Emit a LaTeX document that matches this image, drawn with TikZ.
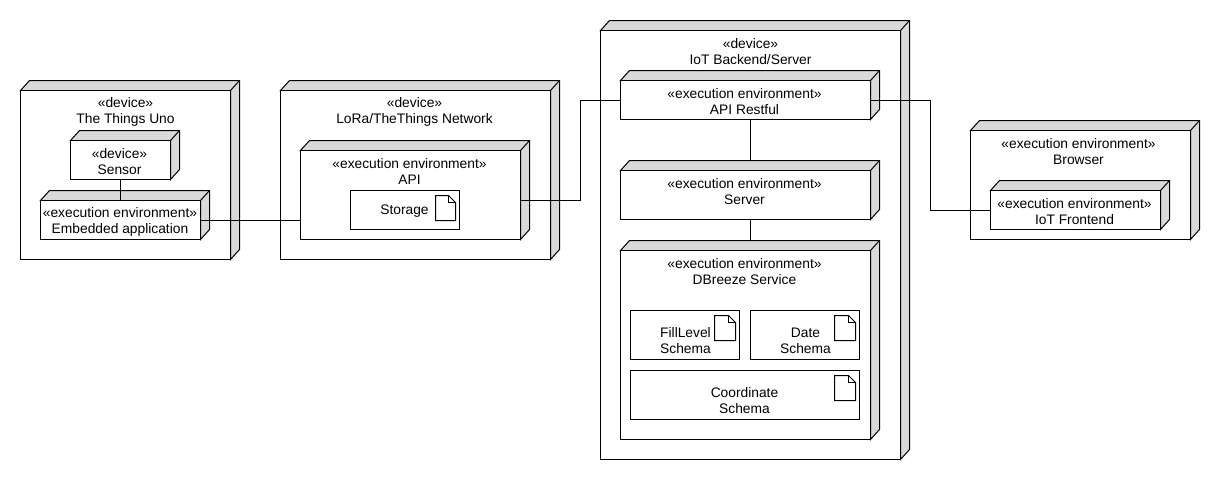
\documentclass[tikz,border=0pt]{standalone}
\usepackage{fontspec}
\setmainfont{Liberation Sans}
\definecolor{facegray}{HTML}{D9D9D9}
\tikzset{
  x=1pt,y=-1pt,
  frontface/.style={draw=black,fill=white,line width=1pt,rectangle,inner sep=0pt,outer sep=0pt},
  sideface/.style={draw=black,fill=facegray,line width=1pt,line join=miter},
  edgeline/.style={draw=black,line width=1pt},
  wire/.style={draw=black,line width=1pt},
  caption/.style={align=center,inner sep=0pt,font=\fontsize{13.8}{16}\selectfont},
  notesheet/.style={draw=black,fill=white,line width=1pt},
}
% 3D UML node: name, x1, y1, x2, y2 (front face)
\newcommand{\umlbox}[5]{%
  \fill[sideface] (#2,#3) -- (#2+9,#3-10) -- (#4+9,#3-10) -- (#4+9,#5-10) -- (#4,#5) -- (#4,#3) -- cycle;
  \draw[edgeline] (#4,#3) -- (#4+9,#3-10);
  \pgfmathsetmacro{\bw}{#4-#2}\pgfmathsetmacro{\bh}{#5-#3}%
  \node[frontface,minimum width=\bw pt,minimum height=\bh pt] (#1) at ({(#2+#4)/2},{(#3+#5)/2}) {};
  \coordinate (#1-top) at ({(#2+#4)/2},#3-10);
}
% plain artifact box: name, x1, y1, x2, y2
\newcommand{\artbox}[5]{%
  \pgfmathsetmacro{\bw}{#4-#2}\pgfmathsetmacro{\bh}{#5-#3}%
  \node[frontface,minimum width=\bw pt,minimum height=\bh pt] (#1) at ({(#2+#4)/2},{(#3+#5)/2}) {};
}
% document icon: x1, y1, width
\newcommand{\noteicon}[3]{%
  \draw[notesheet] (#1,#2) -- (#1+#3-7,#2) -- (#1+#3,#2+7) -- (#1+#3,#2+25) -- (#1,#2+25) -- cycle;
  \draw[notesheet,fill=none] (#1+#3-7,#2) -- (#1+#3-7,#2+7) -- (#1+#3,#2+7);
}
\begin{document}
\begin{tikzpicture}
\useasboundingbox (0,0) rectangle (1220,480);
\fill[white] (0,0) rectangle (1220,480);
\begin{scope}[shift={(0.5,0.5)}]
% The Things Uno
\umlbox{uno}{20}{90}{230}{259}
\node[caption] (unotext) at (125,111) {«device»\\The Things Uno};
\umlbox{sensor}{70}{140}{170}{179}
\node[caption] (sensortext) at (119,161) {«device»\\Sensor};
\umlbox{embedded}{40}{200}{200}{239}
\node[caption] (embeddedtext) at (119.5,221) {«execution environment»\\Embedded application};
% LoRa
\umlbox{lora}{280}{90}{550}{259}
\node[caption] (loratext) at (414,111) {«device»\\LoRa/TheThings Network};
\umlbox{api}{300}{150}{520}{239}
\node[caption] (apitext) at (409,171) {«execution environment»\\API};
\artbox{storage}{350}{190}{459}{229}
\node[caption] (storagetext) at (404,211) {Storage};
\noteicon{435}{195}{20}
% IoT backend
\umlbox{backend}{600}{30}{900}{459}
\node[caption] (backendtext) at (750,51) {«device»\\IoT Backend/Server};
\umlbox{restful}{620}{80}{870}{119}
\node[caption] (restfultext) at (744,101) {«execution environment»\\API Restful};
\umlbox{server}{620}{170}{870}{219}
\node[caption] (servertext) at (744,191) {«execution environment»\\Server};
\umlbox{dbreeze}{620}{250}{870}{439}
\node[caption] (dbreezetext) at (744,271) {«execution environment»\\DBreeze Service};
\artbox{filllevel}{630}{310}{739}{359}
\node[caption] (fillleveltext) at (685,340) {FillLevel\\Schema};
\noteicon{714}{315}{21}
\artbox{date}{750}{310}{859}{359}
\node[caption] (datetext) at (805,340) {Date\\Schema};
\noteicon{834}{315}{21}
\artbox{coordinate}{630}{370}{859}{419}
\node[caption] (coordinatetext) at (744,400) {Coordinate\\Schema};
\noteicon{834}{375}{21}
% Browser
\umlbox{browser}{970}{130}{1190}{239}
\node[caption] (browsertext) at (1078,151) {«execution environment»\\Browser};
\umlbox{frontend}{990}{190}{1160}{229}
\node[caption] (frontendtext) at (1074,211) {«execution environment»\\IoT Frontend};
% connectors
\coordinate (embeddedport) at (200,220);
\coordinate (apiinport) at (300,220);
\coordinate (apiport) at (520,200);
\coordinate (restinport) at (620,100);
\coordinate (restoutport) at (870,100);
\coordinate (frontport) at (990,210);
\coordinate (busa) at (580,150);
\coordinate (busb) at (930,150);
\coordinate (spine) at (750,140);
\draw[wire] (sensor.south) -- (embedded.north);
\draw[wire] (embeddedport) -- (apiinport);
\draw[wire] (apiport) -| (busa) |- (restinport);
\draw[wire] (spine |- restful.south) -- (spine |- server-top);
\draw[wire] (spine |- server.south) -- (spine |- dbreeze-top);
\draw[wire] (restoutport) -| (busb) |- (frontport);
\end{scope}
\end{tikzpicture}
\end{document}
